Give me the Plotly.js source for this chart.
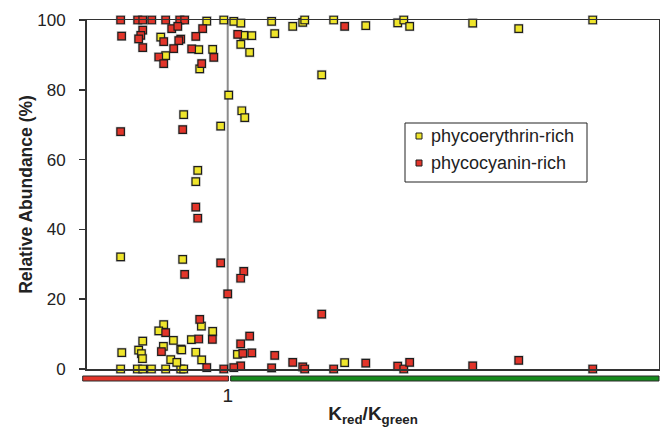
<!DOCTYPE html>
<html>
<head>
<meta charset="utf-8">
<script src="https://cdn.plot.ly/plotly-3.0.1.min.js"></script>
<style>html,body{margin:0;padding:0;background:#fff;}#chart{width:660px;height:427px;}</style>
</head>
<body>
<div id="chart"></div>
<script>
// K_red/K_green (x) and relative abundance in % (y)
const phycoerythrinX = [0.851,0.972,1.043,1.093,1.312,1.462,1.533,1.547,1.753,1.981,2.208,2.251,2.293,2.741,3.068,3.594,
  1.114,1.171,1.334,1.093,1.156,1.668,1.007,1.100,1.121,0.524,0.559,0.794,0.893,0.801,0.950,0.787,0.773,0.239,0.680,0.687,
  1.069,1.831,0.239,0.358,0.396,0.458,0.559,0.666,0.687,0.247,0.396,0.367,0.387,0.394,0.545,0.510,0.614,0.543,0.666,0.673,
  0.595,0.638,0.742,0.813,0.893,0.773,0.815];
const phycoerythrinY = [99.7,100,99.6,99.1,99.6,98.2,99.3,100,100,98.4,99.2,100,98.2,99.1,97.5,100,
  95.6,95.5,96.1,93.0,90.7,84.3,78.5,74.0,72.0,95.1,89.8,91.5,91.6,86.0,69.6,56.9,53.7,32.1,31.4,72.9,
  4.2,1.8,0,0,0,0,0,0,0,4.7,8.0,5.4,4.4,3.0,12.7,10.9,8.2,6.5,5.7,5.5,
  2.7,1.9,8.4,12.3,10.8,4.8,2.6];
const phycocyaninX = [0.239,0.360,0.396,0.460,0.559,0.659,0.694,0.246,0.396,0.382,0.367,0.396,0.545,0.602,0.645,0.666,0.652,
  0.773,0.822,0.616,0.510,0.545,0.744,0.901,0.815,1.071,1.831,0.239,0.680,0.773,0.787,0.950,0.694,1.000,1.114,1.092,0.801,
  1.156,1.092,1.107,1.171,1.334,1.462,1.533,1.547,1.312,1.092,1.043,0.972,1.668,1.753,1.981,2.208,2.251,2.293,2.741,3.068,
  3.594,0.559,0.529,0.794,0.891,0.851];
const phycocyaninY = [100,100,100,100,100,100,100,95.4,97.1,95.6,94.6,92.1,93.8,97.5,98.2,94.5,94.1,
  95.3,97.5,91.8,89.4,87.5,91.7,89.3,87.5,95.9,98.2,68.0,68.6,46.4,43.2,30.4,27.1,21.5,28.0,26.0,14.2,
  9.4,7.2,4.5,4.6,3.9,1.9,0.6,0,0.3,0.9,0.4,0,15.7,0,1.7,0.8,0,1.9,0.9,2.5,
  0,10.4,5.0,8.6,8.5,0.4];
const seriesNames = ['phycoerythrin-rich', 'phycocyanin-rich'];
const yTicks = [0, 20, 40, 60, 80, 100];
const xTickVals = [1];
const xTickText = ['1'];

const YELLOW = '#efe52b', RED = '#e2352a', GREEN = '#168a1c';
const SERIES_COLORS = [YELLOW, RED];
const FONT = 'Liberation Sans, Arial, Helvetica, sans-serif';
const X_RANGE = [0, 4.065];

// pixel helpers for decorations (plot area: left 87, top 20, width 572, height 349)
const W = 660, H = 427, ML = 87, MR = 1, MT = 20, MB = 58;
const PW = W - ML - MR, PH = H - MT - MB;
const px2paperX = p => (p - ML) / PW;
const px2paperY = p => (H - MB - p) / PH;
const x2paper = v => (v - X_RANGE[0]) / (X_RANGE[1] - X_RANGE[0]);

function marker(color, size) {
  return {symbol: 'square', size: size, color: color, line: {color: '#1e1e1e', width: 1.2}};
}
function halo(xs, ys) {
  return {x: xs, y: ys, type: 'scatter', mode: 'markers', cliponaxis: false, hoverinfo: 'skip',
          showlegend: false, marker: {symbol: 'square', size: 10, color: 'rgba(0,0,0,0.18)', line: {width: 0}}};
}

const traces = [
  halo(phycoerythrinX, phycoerythrinY),
  halo(phycocyaninX, phycocyaninY),
  {x: phycoerythrinX, y: phycoerythrinY, type: 'scatter', mode: 'markers', cliponaxis: false,
   marker: marker(YELLOW, 7.5), showlegend: false, name: seriesNames[0]},
  {x: phycocyaninX, y: phycocyaninY, type: 'scatter', mode: 'markers', cliponaxis: false,
   marker: marker(RED, 7.5), showlegend: false, name: seriesNames[1]}
];

// legend drawn as a framed box with swatches and text
const legBox = {x0: px2paperX(405), x1: px2paperX(587), y0: px2paperY(182), y1: px2paperY(123)};
const legRowsPx = [136, 163];
const shapes = [
  {type: 'line', xref: 'x', yref: 'paper', x0: 1, x1: 1, y0: 0, y1: 1, line: {color: '#8c8c8c', width: 2}, layer: 'below'},
  {type: 'rect', xref: 'paper', yref: 'paper', x0: px2paperX(82.7), x1: x2paper(1.005), y0: px2paperY(381), y1: px2paperY(376),
   fillcolor: RED, line: {color: '#2a2a2a', width: 1}},
  {type: 'rect', xref: 'paper', yref: 'paper', x0: x2paper(1.021), x1: x2paper(X_RANGE[1]), y0: px2paperY(381), y1: px2paperY(376),
   fillcolor: GREEN, line: {color: '#2a2a2a', width: 1}},
  {type: 'rect', xref: 'paper', yref: 'paper', x0: legBox.x0, x1: legBox.x1, y0: legBox.y0, y1: legBox.y1,
   fillcolor: '#fff', line: {color: '#222', width: 1}}
];
const annotations = [];
seriesNames.forEach((name, i) => {
  const cy = legRowsPx[i];
  shapes.push({type: 'rect', xref: 'paper', yref: 'paper',
               x0: px2paperX(416), x1: px2paperX(422), y0: px2paperY(cy + 3), y1: px2paperY(cy - 3),
               fillcolor: SERIES_COLORS[i], line: {color: '#1e1e1e', width: 1}});
  annotations.push({xref: 'paper', yref: 'paper', x: px2paperX(429), y: px2paperY(cy), xanchor: 'left', yanchor: 'middle',
                    text: name, showarrow: false, font: {size: 18, family: FONT, color: '#222'}});
});

const layout = {
  width: W, height: H,
  margin: {l: ML, r: MR, t: MT, b: MB, pad: 0},
  paper_bgcolor: '#fff', plot_bgcolor: '#fff',
  font: {family: FONT, color: '#222', size: 16},
  showlegend: false,
  xaxis: {range: X_RANGE, showgrid: false, zeroline: false, showline: true, mirror: true,
          linecolor: '#333', linewidth: 1.5, tickvals: xTickVals, ticktext: xTickText, ticks: '',
          ticklabelstandoff: 9, tickfont: {size: 19, family: FONT, color: '#222'},
          title: {text: '<b>K<sub>red</sub>/K<sub>green</sub></b>', font: {size: 19, family: FONT, color: '#222'}, standoff: 6},
          fixedrange: true},
  yaxis: {range: [0, 100], showgrid: false, zeroline: false, showline: true, mirror: true,
          linecolor: '#333', linewidth: 2, tickvals: yTicks, ticks: 'outside', ticklen: 6,
          tickcolor: '#333', tickwidth: 1.5, ticklabelstandoff: 10,
          tickfont: {size: 17, family: FONT, color: '#222'},
          title: {text: '<b>Relative Abundance (%)</b>', font: {size: 17.5, family: FONT, color: '#222'}, standoff: 0},
          fixedrange: true},
  shapes: shapes,
  annotations: annotations
};

Plotly.newPlot('chart', traces, layout, {displayModeBar: false, staticPlot: true});
</script>
</body>
</html>
